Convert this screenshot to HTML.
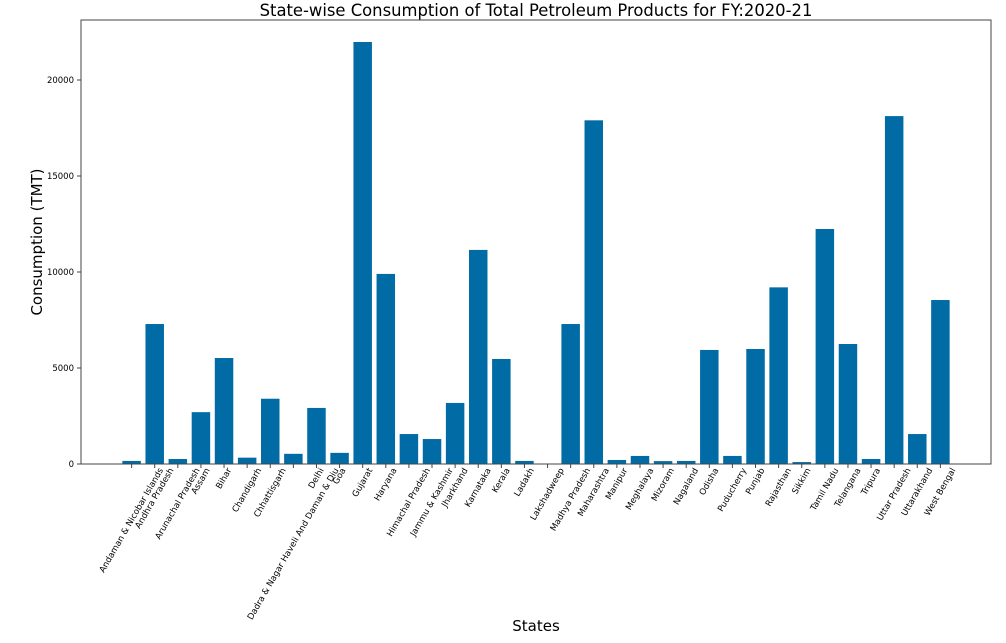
<!DOCTYPE html>
<html><head><meta charset="utf-8"><style>body{margin:0;background:#fff}svg{display:block;font-family:"DejaVu Sans","Liberation Sans",sans-serif}</style></head>
<body>
<svg id="chart" width="1006" height="643">
<text x="536" y="16" text-anchor="middle" font-size="16.4">State-wise Consumption of Total Petroleum Products for FY:2020-21</text>
<text x="536" y="631" text-anchor="middle" font-size="15">States</text>
<text transform="translate(42,242) rotate(-90)" text-anchor="middle" font-size="15">Consumption (TMT)</text>
<g id="bars"></g><g id="yticks"></g><g id="xticks"></g>
<rect x="81" y="20" width="910" height="444" fill="none" stroke="#444" stroke-width="1"/>
</svg>
<script>
const categories=["Andaman & Nicobar Islands","Andhra Pradesh","Arunachal Pradesh","Assam","Bihar","Chandigarh","Chhattisgarh","Dadra & Nagar Haveli And Daman & Diu","Delhi","Goa","Gujarat","Haryana","Himachal Pradesh","Jammu & Kashmir","Jharkhand","Karnataka","Kerala","Ladakh","Lakshadweep","Madhya Pradesh","Maharashtra","Manipur","Meghalaya","Mizoram","Nagaland","Odisha","Puducherry","Punjab","Rajasthan","Sikkim","Tamil Nadu","Telangana","Tripura","Uttar Pradesh","Uttarakhand","West Bengal"];
const values=[160,7290,260,2700,5520,330,3400,530,2920,580,21980,9900,1560,1300,3180,11150,5470,160,20,7290,17900,210,420,150,160,5940,420,5990,9200,100,12240,6250,260,18120,1560,8540];
const yTicks=[0,5000,10000,15000,20000];
const NS="http://www.w3.org/2000/svg";
const L=81,R=991,B=464,pxPer=96/5000;
const n=categories.length;
const x0=-0.4-0.05*(n-0.2),x1=n-1+0.4+0.05*(n-0.2);
const X=i=>L+(i-x0)/(x1-x0)*(R-L);
const Y=v=>B-v*pxPer;
const uw=(R-L)/(x1-x0);
const bars=document.getElementById('bars'),yt=document.getElementById('yticks'),xt=document.getElementById('xticks');
values.forEach((v,i)=>{const r=document.createElementNS(NS,'rect');
r.setAttribute('x',X(i)-0.4*uw);r.setAttribute('width',0.8*uw);r.setAttribute('y',Y(v));r.setAttribute('height',B-Y(v));r.setAttribute('fill','#006ba4');


bars.appendChild(r);});
yTicks.forEach(t=>{const l=document.createElementNS(NS,'line');l.setAttribute('x1',L-4);l.setAttribute('x2',L);l.setAttribute('y1',Y(t));l.setAttribute('y2',Y(t));l.setAttribute('stroke','#444');


yt.appendChild(l);
const s=document.createElementNS(NS,'text');s.setAttribute('x',L-7);s.setAttribute('y',Y(t)+3);s.setAttribute('text-anchor','end');s.setAttribute('font-size','8.5');s.textContent=t;


yt.appendChild(s);});
categories.forEach((c,i)=>{const x=X(i);const l=document.createElementNS(NS,'line');l.setAttribute('x1',x);l.setAttribute('x2',x);l.setAttribute('y1',B);l.setAttribute('y2',B+4);l.setAttribute('stroke','#444');


xt.appendChild(l);
const s=document.createElementNS(NS,'text');s.setAttribute('font-size','8.6');s.setAttribute('text-anchor','end');s.textContent=c;


xt.appendChild(s);
const len=s.getComputedTextLength();const h=7;
const px=x+(len*0.5+0.866*h)/2-1, py=470;
s.setAttribute('transform','translate('+px+','+py+') rotate(-60)');});
</script>
</body></html>
